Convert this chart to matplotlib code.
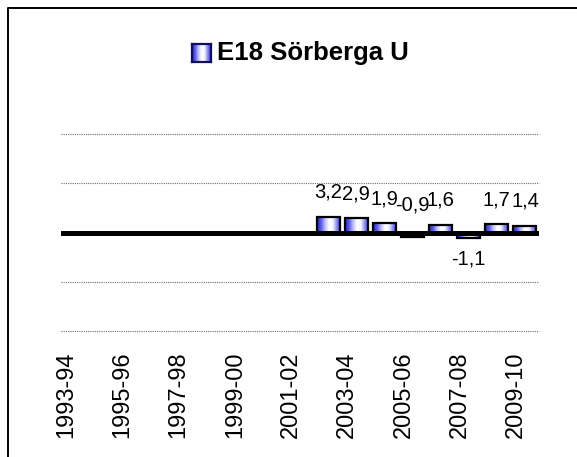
import matplotlib
matplotlib.use("Agg")
import matplotlib.pyplot as plt
import matplotlib.transforms as mtransforms
from matplotlib.colors import LinearSegmentedColormap
from matplotlib.lines import Line2D
import numpy as np

plt.rcParams['font.family'] = ['Liberation Sans', 'DejaVu Sans']

# data
seasons = ['1993-94', '1994-95', '1995-96', '1996-97', '1997-98', '1998-99',
           '1999-00', '2000-01', '2001-02', '2002-03', '2003-04', '2004-05',
           '2005-06', '2006-07', '2007-08', '2008-09', '2009-10']
values = [None, None, None, None, None, None, None, None, None,
          3.2, 2.9, 1.9, -0.9, 1.6, -1.1, 1.7, 1.4]
series_name = 'E18 Sörberga U'

W, H = 577, 457
fig = plt.figure(figsize=(W / 100, H / 100), dpi=100)
ax = fig.add_axes([61 / W, 1 - 331 / H, (539 - 61) / W, (331 - 134) / H])

grad_cmap = LinearSegmentedColormap.from_list(
    'barfill', ['#2828bc', '#5c5cec', '#bcbcff', '#ffffff', '#f4f4ff', '#8c8cf4', '#3030c8'])
grad = np.linspace(0, 1, 64).reshape(1, -1)

# gridlines
for g in [-20, -10, 10, 20]:
    ax.axhline(g, color='#6f6f6f', lw=0.8, ls=(0, (1, 1)), zorder=1, clip_on=False)

bw = 0.82
for i, v in enumerate(values):
    if v is None:
        continue
    ax.imshow(grad, cmap=grad_cmap, aspect='auto', zorder=2,
              extent=[i - bw / 2, i + bw / 2, min(0, v), max(0, v)])
    ax.bar(i, v, width=bw, facecolor='none', edgecolor='black', lw=1.6, zorder=3)
    txt = f"{v:.1f}".replace('.', ',')
    if v >= 0:
        ax.annotate(txt, (i, v), xytext=(0, 15), textcoords='offset pixels',
                    ha='center', va='bottom', fontsize=14.5)
    elif v > -1:
        ax.annotate(txt, (i, 0), xytext=(0, 18), textcoords='offset pixels',
                    ha='center', va='bottom', fontsize=14.5)
    else:
        ax.annotate(txt, (i, v), xytext=(0, -12), textcoords='offset pixels',
                    ha='center', va='top', fontsize=14.5)

ax.axhline(0, color='black', lw=3.6, zorder=4)

ax.set_xlim(-0.5, len(seasons) - 0.5)
ax.set_ylim(-20, 20)
ax.set_yticks([])
ticks = list(range(0, len(seasons), 2))
ax.set_xticks(ticks)
ax.set_xticklabels([seasons[t] for t in ticks], rotation=90, fontsize=17)
ax.tick_params(axis='x', length=0, pad=15)
shift = mtransforms.ScaledTranslation(-9 / 100, 0, fig.dpi_scale_trans)
for lab in ax.get_xticklabels():
    lab.set_transform(lab.get_transform() + shift)
for s in ax.spines.values():
    s.set_visible(False)

# legend used as title
lax = fig.add_axes([192 / W, 1 - 62 / H, 19 / W, 18 / H])
lax.imshow(grad, cmap=grad_cmap, aspect='auto')
lax.set_xticks([])
lax.set_yticks([])
for s in lax.spines.values():
    s.set_color('#10105a')
    s.set_linewidth(1.6)
fig.text(217 / W, 1 - 53 / H, series_name, fontsize=18.5, fontweight='bold',
         ha='left', va='center')

# chart border (only left and top visible)
fig.add_artist(Line2D([8 / W, 8 / W, 1], [0, 1 - 8 / H, 1 - 8 / H],
                      transform=fig.transFigure, color='black', lw=1.4))

fig.savefig('out.png', dpi=100)
